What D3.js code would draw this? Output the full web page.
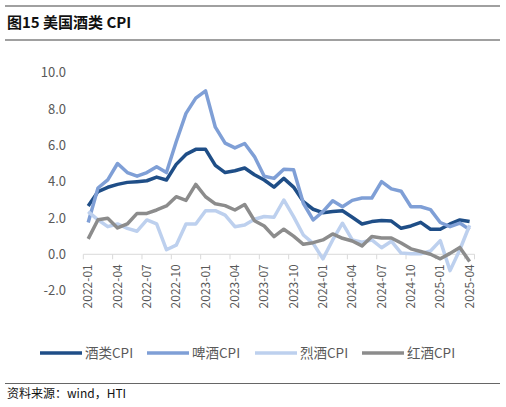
<!DOCTYPE html>
<html>
<head>
<meta charset="utf-8">
<script src="https://cdn.jsdelivr.net/npm/d3@7"></script>
<style>
  body { margin: 0; background: #fff; }
  svg { display: block; font-family: "Noto Sans CJK SC", "Noto Sans", sans-serif; }
</style>
</head>
<body>
<svg id="chart" width="506" height="407"></svg>
<script>
// months 2022-01 .. 2025-04
var months = [];
for (var yr = 2022; yr <= 2025; yr++) {
  for (var m = 1; m <= 12; m++) {
    if (yr === 2025 && m > 4) break;
    months.push(yr + "-" + (m < 10 ? "0" + m : m));
  }
}

var yTicks = [-2, 0, 2, 4, 6, 8, 10];

// 酒类CPI
var alcohol = [2.66, 3.45, 3.69, 3.85, 3.96, 4.0, 4.05, 4.25, 4.09, 4.95,
  5.5, 5.78, 5.78, 4.9, 4.5, 4.6, 4.75, 4.38, 4.09, 3.7,
  4.18, 3.7, 2.9, 2.48, 2.29, 2.35, 2.4, 2.04, 1.67, 1.8,
  1.86, 1.83, 1.43, 1.56, 1.76, 1.38, 1.38, 1.67, 1.89, 1.8];
// 啤酒CPI
var beer = [1.75, 3.65, 4.1, 5.0, 4.5, 4.3, 4.5, 4.82, 4.5, 6.2,
  7.76, 8.6, 9.0, 7.0, 6.12, 5.86, 6.1, 5.38, 4.3, 4.18,
  4.68, 4.66, 2.81, 1.89, 2.35, 2.95, 2.62, 2.97, 3.1, 3.1,
  4.0, 3.6, 3.47, 2.62, 2.62, 2.46, 1.75, 1.52, 1.72, 1.36];
// 烈酒CPI
var spirits = [2.35, 1.9, 1.52, 1.67, 1.43, 1.27, 1.89, 1.67, 0.25, 0.5,
  1.67, 1.67, 2.4, 2.4, 2.16, 1.52, 1.61, 1.93, 2.08, 2.04,
  2.99, 2.07, 1.06, 0.6, -0.25, 0.79, 1.71, 0.79, 0.67, 0.79,
  0.36, 0.72, 0.07, 0.03, 0.03, 0.18, 0.75, -0.9, 0.25, 1.6];
// 红酒CPI
var wine = [0.85, 1.9, 1.98, 1.45, 1.67, 2.25, 2.25, 2.44, 2.66, 3.17,
  2.97, 3.85, 3.17, 2.78, 2.68, 2.44, 2.74, 1.85, 1.56, 0.97,
  1.38, 1.0, 0.55, 0.64, 0.79, 1.12, 0.88, 0.73, 0.46, 0.98,
  0.9, 0.9, 0.62, 0.3, 0.15, 0.0, -0.25, 0.05, 0.38, -0.4];

var series = [
  {name: "酒类CPI", values: alcohol, color: "#1F4E87"},
  {name: "啤酒CPI", values: beer, color: "#7F9FD6"},
  {name: "烈酒CPI", values: spirits, color: "#BDD0EE"},
  {name: "红酒CPI", values: wine, color: "#8C8C8C"}
];

var svg = d3.select("#chart");

// header / footer rules
svg.append("line").attr("x1", 5).attr("x2", 500).attr("y1", 6).attr("y2", 6)
  .attr("stroke", "#808080").attr("stroke-width", 1.5);
svg.append("line").attr("x1", 5).attr("x2", 500).attr("y1", 40).attr("y2", 40)
  .attr("stroke", "#808080").attr("stroke-width", 1.5);
svg.append("text").attr("x", 7).attr("y", 28)
  .attr("font-size", 15).attr("font-weight", "bold").attr("fill", "#111")
  .text("图15 美国酒类 CPI");
svg.append("line").attr("x1", 5).attr("x2", 500).attr("y1", 383.5).attr("y2", 383.5)
  .attr("stroke", "#666").attr("stroke-width", 1);
svg.append("text").attr("x", 7).attr("y", 398)
  .attr("font-size", 12).attr("fill", "#111")
  .text("资料来源：wind，HTI");

// scales
var x = d3.scaleBand().domain(months).range([83.3, 474.5]);
var y = d3.scaleLinear().domain([-2, 10]).range([290.6, 72.7]);
var cx = function(i) { return x(months[i]) + x.bandwidth() / 2; };

// y axis labels
svg.append("g").selectAll("text").data(yTicks).enter().append("text")
  .attr("x", 66).attr("y", function(d) { return y(d); })
  .attr("dy", "0.35em").attr("text-anchor", "end")
  .attr("font-size", 13).attr("fill", "#595959")
  .text(function(d) { return d.toFixed(1); });

// x axis at zero
var xg = svg.append("g");
xg.append("line").attr("x1", 83.3).attr("x2", 474.5)
  .attr("y1", y(0)).attr("y2", y(0)).attr("stroke", "#D9D9D9").attr("stroke-width", 1);
var tickIdx = d3.range(0, months.length, 3);
xg.selectAll(".tk").data(tickIdx.concat([months.length])).enter().append("line")
  .attr("x1", function(i) { return i < months.length ? x(months[i]) : 474.5; })
  .attr("x2", function(i) { return i < months.length ? x(months[i]) : 474.5; })
  .attr("y1", y(0)).attr("y2", y(0) + 5)
  .attr("stroke", "#D9D9D9");
xg.selectAll(".lb").data(tickIdx).enter().append("text")
  .attr("transform", function(i) { return "translate(" + cx(i) + "," + (y(0) + 10) + ") rotate(-90)"; })
  .attr("text-anchor", "end").attr("dy", "0.35em")
  .attr("font-size", 12).attr("fill", "#595959")
  .text(function(i) { return months[i]; });

// lines
var line = d3.line()
  .x(function(d, i) { return cx(i); })
  .y(function(d) { return y(d); });

svg.append("g").selectAll("path").data(series).enter().append("path")
  .attr("d", function(s) { return line(s.values); })
  .attr("fill", "none")
  .attr("stroke", function(s) { return s.color; })
  .attr("stroke-width", 3.5)
  .attr("stroke-linejoin", "round");

// legend
var legX = [40, 147, 255, 362];
var leg = svg.append("g").selectAll("g").data(series).enter().append("g")
  .attr("transform", function(s, i) { return "translate(" + legX[i] + ",353)"; });
leg.append("line").attr("x1", 0).attr("x2", 42).attr("y1", 0).attr("y2", 0)
  .attr("stroke", function(s) { return s.color; }).attr("stroke-width", 3.5);
leg.append("text").attr("x", 45).attr("dy", "0.35em")
  .attr("font-size", 13.5).attr("fill", "#595959")
  .text(function(s) { return s.name; });
</script>
</body>
</html>
